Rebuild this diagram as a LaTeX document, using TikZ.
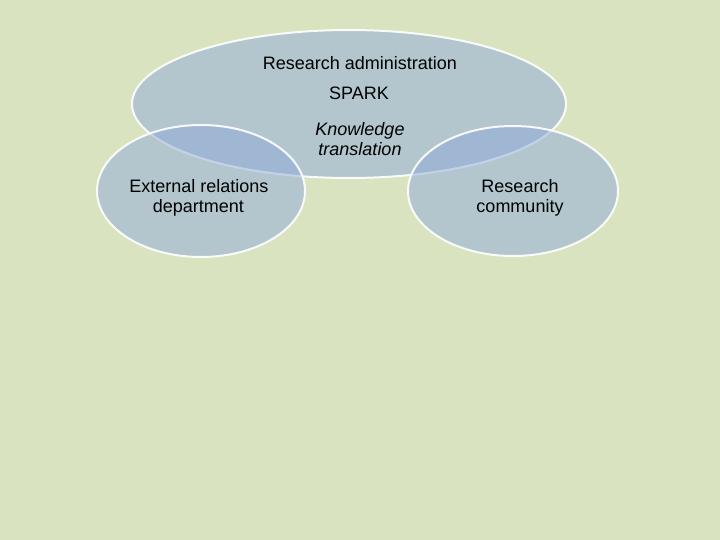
\documentclass[tikz,border=0pt]{standalone}
\usepackage{fontspec}
\setmainfont{Liberation Sans}
\begin{document}
\begin{tikzpicture}[x=1pt,y=-1pt,
  circ/.style={draw=white,line width=2pt,fill={rgb,255:red,143;green,170;blue,220},fill opacity=0.5,draw opacity=0.9},
  lbl/.style={font=\fontsize{18}{20}\selectfont,align=center,text=black}]
\fill[fill={rgb,255:red,217;green,227;blue,191}] (0,0) rectangle (720,540);
\useasboundingbox (0,0) rectangle (720,540);
\path[circ] (349,104) ellipse [x radius=217,y radius=74];
\path[circ] (201,191) ellipse [x radius=104,y radius=66];
\path[circ] (513,191) ellipse [x radius=105,y radius=65];
\node[lbl] (ra) at (360,63) {Research administration};
\node[lbl] (sp) at (359,93) {SPARK};
\node[lbl,font=\fontsize{18}{20}\selectfont\itshape] (kt) at (360,139) {Knowledge\\translation};
\node[lbl,align=left] (er) at (199,198) {External relations\\\hspace*{1.3em}department};
\node[lbl] (rc) at (520,198) {Research\\community};
\end{tikzpicture}
\end{document}
